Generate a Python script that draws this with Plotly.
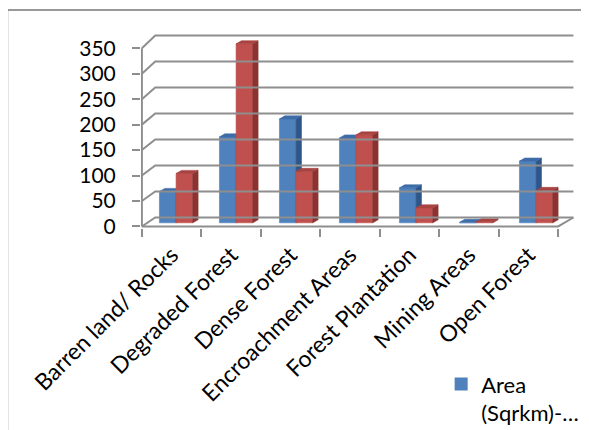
import plotly.graph_objects as go

# ---------------- data ----------------
categories = ["Barren land/ Rocks", "Degraded Forest", "Dense Forest",
              "Encroachment Areas", "Forest Plantation", "Mining Areas", "Open Forest"]
blue_name = "Area<br>(Sqrkm)-…"
red_name = "Area (Sqrkm)-2"
blue_values = [61, 167, 202, 165, 68, 1, 120]
red_values = [96, 348, 100, 171, 29, 2, 63]
y_tick_values = [0, 50, 100, 150, 200, 250, 300, 350]
y_tick_labels = [str(v) for v in y_tick_values]

# ---------------- 3-D look (data units) ----------------
N = len(categories)
X_LEFT = -0.5
X_RIGHT_FRONT = N - 0.5
WALL_DX_LEFT = 0.224
WALL_DX_RIGHT = 0.257
X_RIGHT_BACK = X_RIGHT_FRONT + WALL_DX_RIGHT
WALL_DY = 17.6
WALL_SCALE = 1.021
BAR_BASE = 7.2
BAR_SCALE = 1.01
BAR_W = 0.28
BAR_SHIFT0 = -0.205
BAR_SHIFT_STEP = 0.009
FACE_DX = 0.09
FACE_DY = 6.0

BLUE = dict(front="#4F81BD", top="#3E6CA8", side="#2F5689")
RED = dict(front="#C0504D", top="#A84341", side="#8A3331")
GRID = "#8E8E8E"


def back(v):
    return WALL_DY + WALL_SCALE * v


def bar_faces(values, x0s):
    fx, fy, tx, ty, sx, sy = [], [], [], [], [], []
    for v, x0 in zip(values, x0s):
        x1 = x0 + BAR_W
        b = BAR_BASE
        t = BAR_BASE + v * BAR_SCALE
        fx += [x0, x1, x1, x0, x0, None]
        fy += [b, b, t, t, b, None]
        tx += [x0, x1, x1 + FACE_DX, x0 + FACE_DX, x0, None]
        ty += [t, t, t + FACE_DY, t + FACE_DY, t, None]
        sx += [x1, x1 + FACE_DX, x1 + FACE_DX, x1, x1, None]
        sy += [b, b + FACE_DY, t + FACE_DY, t, b, None]
    return (fx, fy), (tx, ty), (sx, sy)


blue_x0 = [i + BAR_SHIFT0 + BAR_SHIFT_STEP * i for i in range(N)]
red_x0 = [x + BAR_W for x in blue_x0]

fig = go.Figure()

# walls / gridlines
gx, gy = [], []
for v in y_tick_values:
    gx += [X_LEFT, X_LEFT + WALL_DX_LEFT, X_RIGHT_BACK, None]
    gy += [v, back(v), back(v), None]
gx += [X_LEFT, X_LEFT, None, X_LEFT, X_RIGHT_FRONT, X_RIGHT_BACK, None]
gy += [0, y_tick_values[-1], None, 0, 0, back(0), None]
fig.add_trace(go.Scatter(x=gx, y=gy, mode="lines", line=dict(color=GRID, width=2),
                         hoverinfo="skip", showlegend=False, xaxis="x2"))

for vals, x0s, col in [(blue_values, blue_x0, BLUE), (red_values, red_x0, RED)]:
    front, top, side = bar_faces(vals, x0s)
    for (xs, ys), c in [(front, col["front"]), (side, col["side"]), (top, col["top"])]:
        fig.add_trace(go.Scatter(x=xs, y=ys, mode="lines", fill="toself",
                                 fillcolor=c, line=dict(color=c, width=0.6),
                                 hoverinfo="skip", showlegend=False))

# legend entry
fig.add_trace(go.Scatter(x=[None], y=[None], mode="markers", name=blue_name,
                         marker=dict(symbol="square", size=13, color=BLUE["front"]),
                         showlegend=True))

FONT = "Lato, 'Open Sans', sans-serif"
# the page body adds an 8px offset, compensated here
fig.update_layout(
    width=589, height=430,
    margin=dict(l=132.8, r=20.95, t=26, b=209.5, autoexpand=False),
    paper_bgcolor="white", plot_bgcolor="white",
    font=dict(family=FONT, size=22, color="black"),
    xaxis=dict(range=[-0.515, 6.8], tickmode="array",
               tickvals=list(range(N)), ticktext=categories, tickangle=-45,
               ticks="", showgrid=False, zeroline=False, showline=False,
               ticklabelstandoff=8, automargin=False,
               tickfont=dict(family=FONT, size=23, color="black")),
    xaxis2=dict(range=[-0.515, 6.8], overlaying="x", anchor="y", side="bottom",
                tickmode="array", tickvals=[i - 0.5 for i in range(N + 1)],
                ticks="outside", ticklen=8, tickwidth=1.5, tickcolor=GRID,
                showticklabels=False, showgrid=False, zeroline=False, showline=False),
    yaxis=dict(range=[-3, 378], tickmode="array", tickvals=y_tick_values,
               ticktext=y_tick_labels, ticks="outside", ticklen=8, tickwidth=1.5,
               tickcolor=GRID, showgrid=False, zeroline=False, showline=False,
               ticklabelstandoff=12, automargin=False,
               tickfont=dict(family=FONT, size=21, color="black")),
    legend=dict(x=0.690, y=-0.697, xanchor="left", yanchor="top",
                bgcolor="rgba(0,0,0,0)", valign="top",
                font=dict(family=FONT, size=22, color="black")),
    shapes=[dict(type="rect", xref="paper", yref="paper",
                 x0=-0.3074, x1=1.1, y0=-1.5, y1=1.1234,
                 line=dict(color="#999999", width=2), layer="below")],
)

fig.write_html("out.html")
